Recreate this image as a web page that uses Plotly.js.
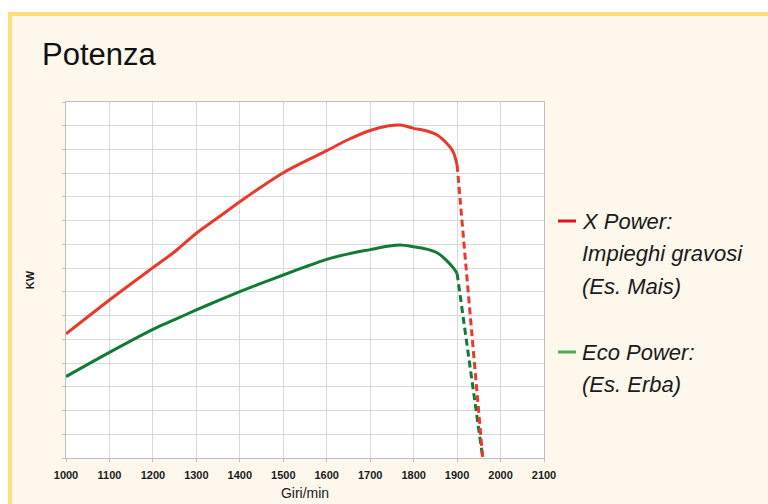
<!DOCTYPE html>
<html>
<head>
<meta charset="utf-8">
<script src="https://cdn.plot.ly/plotly-3.0.1.min.js"></script>
<style>
  html, body { margin: 0; padding: 0; background: #ffffff; overflow: hidden; }
  #frame { position: absolute; left: 8px; top: 12px; width: 800px; height: 540px;
           border: 4px solid #fcdf78; background: #fdf8eb; }
  #chart { position: absolute; left: 0; top: 0; width: 768px; height: 504px; }
</style>
</head>
<body>
<div id="frame"></div>
<div id="chart"></div>
<script>
  // curva di potenza (KW, unità di griglia) per giri/min
  var rpm = [1000, 1100, 1200, 1250, 1300, 1350, 1400, 1450, 1500, 1550, 1600, 1650, 1700, 1740, 1770, 1800, 1830, 1855, 1876, 1891, 1900];
  var xPower = [5.23, 6.66, 8.02, 8.69, 9.47, 10.13, 10.8, 11.43, 12.02, 12.5, 12.95, 13.42, 13.8, 13.99, 14.03, 13.89, 13.78, 13.6, 13.26, 12.9, 12.35];
  var ecoPower = [3.43, 4.45, 5.42, 5.83, 6.24, 6.63, 7.01, 7.37, 7.71, 8.05, 8.37, 8.6, 8.78, 8.92, 8.97, 8.9, 8.8, 8.64, 8.32, 8.02, 7.78];
  // tratto di caduta (tratteggiato)
  var dropRpm = [1900, 1959];
  var xPowerDrop = [12.35, 0];
  var ecoPowerDrop = [7.78, 0];

  var xTicks = [1000, 1100, 1200, 1300, 1400, 1500, 1600, 1700, 1800, 1900, 2000, 2100];
  var legendLabels = [
    ["X Power:", "Impieghi gravosi", "(Es. Mais)"],
    ["Eco Power:", "(Es. Erba)"]
  ];
  var legendColors = ["#e2121e", "#4cae4f"];

  var RED = "#e8392b", GREEN = "#0f7b35";
  var traces = [
    { x: rpm, y: xPower, type: "scatter", mode: "lines", line: { color: RED, width: 3, shape: "spline", smoothing: 0.8 } },
    { x: rpm, y: ecoPower, type: "scatter", mode: "lines", line: { color: GREEN, width: 3, shape: "spline", smoothing: 0.8 } },
    { x: dropRpm, y: ecoPowerDrop, type: "scatter", mode: "lines", line: { color: GREEN, width: 3, dash: "7px,4px" } },
    { x: dropRpm, y: xPowerDrop, type: "scatter", mode: "lines", line: { color: RED, width: 3, dash: "7px,4px" } }
  ];

  // posizioni della legenda (pixel -> paper)
  var L = 66, R = 544, T = 102, B = 458;
  function px(x) { return (x - L) / (R - L); }
  function py(y) { return (B - y) / (B - T); }

  var annotations = [], shapes = [];
  var blockTop = [221, 352];
  legendLabels.forEach(function (lines, i) {
    shapes.push({ type: "line", xref: "paper", yref: "paper", x0: px(558), x1: px(576), y0: py(blockTop[i]), y1: py(blockTop[i]),
                  line: { color: legendColors[i], width: 3 } });
    lines.forEach(function (t, j) {
      annotations.push({ xref: "paper", yref: "paper", x: px(580), y: py(blockTop[i] + j * 32.5), xanchor: "left", yanchor: "middle",
                         text: t, showarrow: false, font: { size: 22, style: "italic", color: "#1a1a1a", family: "Liberation Sans, Arial, sans-serif" } });
    });
  });

  var GRID = "#d9d9d9", LINE = "#bfbfbf";
  var layout = {
    width: 768, height: 504,
    margin: { l: L, r: 768 - R, t: T, b: 504 - B },
    paper_bgcolor: "rgba(0,0,0,0)", plot_bgcolor: "#ffffff",
    showlegend: false,
    font: { family: "Liberation Sans, Arial, sans-serif", color: "#1a1a1a" },
    title: { text: "Potenza", xref: "container", yref: "container", x: 42 / 768, xanchor: "left", y: 1 - 54 / 504, yanchor: "middle",
             font: { size: 31, color: "#111111" } },
    xaxis: { range: [1000, 2100], tickvals: xTicks, ticktext: xTicks.map(String), showgrid: true, gridcolor: GRID, gridwidth: 1,
             zeroline: false, showline: true, linecolor: LINE, mirror: true, ticks: "outside", ticklen: 3, tickcolor: LINE,
             ticklabelstandoff: 4,
             tickfont: { size: 11, weight: "bold", color: "#1a1a1a" },
             title: { text: "Giri/min", font: { size: 14, color: "#1a1a1a" }, standoff: 7 } },
    yaxis: { range: [0, 15], dtick: 1, showticklabels: false, showgrid: true, gridcolor: GRID, gridwidth: 1,
             zeroline: false, showline: true, linecolor: LINE, mirror: true, ticks: "outside", ticklen: 3, tickcolor: LINE,
             title: { text: "KW", font: { size: 11, weight: "bold", color: "#1a1a1a" }, standoff: 25 } },
    shapes: shapes,
    annotations: annotations
  };
  Plotly.newPlot("chart", traces, layout, { displayModeBar: false, staticPlot: true });
</script>
</body>
</html>
